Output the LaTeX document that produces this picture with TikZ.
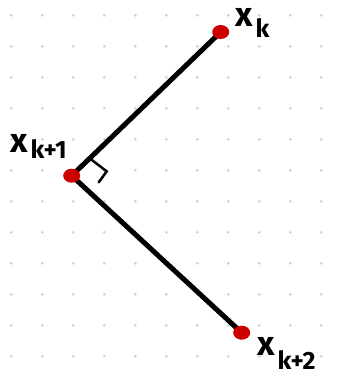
\documentclass[tikz,border=0pt]{standalone}
\usepackage{fontspec}
\setsansfont{Fira Sans}
\usetikzlibrary{shapes.geometric, backgrounds, calc}
\definecolor{cDot}{RGB}{204,0,0}
\definecolor{cGrid}{RGB}{212,212,212}
\newcommand{\lowsub}[2][-8pt]{\hspace{3pt}\raisebox{#1}{\fontsize{25}{25}\selectfont #2}}
\tikzset{
  pointnode/.style={ellipse, fill=cDot, minimum width=17pt,
                    minimum height=14pt, inner sep=0pt},
  labelnode/.style={font=\sffamily\bfseries\fontsize{34}{34}\selectfont,
                    inner sep=0pt, anchor=base west},
  segment/.style={line width=5pt, black},
  anglemark/.style={line width=2.5pt, black, line cap=round},
  griddot/.style={fill=cGrid}
}

\begin{document}
\begin{tikzpicture}[x=1pt, y=-1pt]
  \useasboundingbox (0,0) rectangle (347,376);
  % points
  \node[pointnode] (pk)  at (220.7,32) {};
  \node[pointnode] (pk1) at (71.7,175.7) {};
  \node[pointnode] (pk2) at (241.7,332.7) {};
  % labels
  \node[labelnode] (lk)  at (235,26)  {x\lowsub[-11pt]{k}};
  \node[labelnode] (lk1) at (10,152)  {x\lowsub[-6pt]{k+1}};
  \node[labelnode] (lk2) at (257,355) {x\lowsub[-14pt]{k+2}};
  \begin{scope}[on background layer]
    \foreach \i in {0,...,10}
      \foreach \j in {0,...,11}
        \fill[griddot] (11.3+31*\i, 15.3+31*\j) circle (1.6pt);
    \draw[segment] (pk.center) -- (pk1.center) -- (pk2.center);
    \draw[anglemark] ($(pk1)!25pt!(pk)$) -- ++(17,13) -- ++(-8,11);
  \end{scope}
\end{tikzpicture}
\end{document}
